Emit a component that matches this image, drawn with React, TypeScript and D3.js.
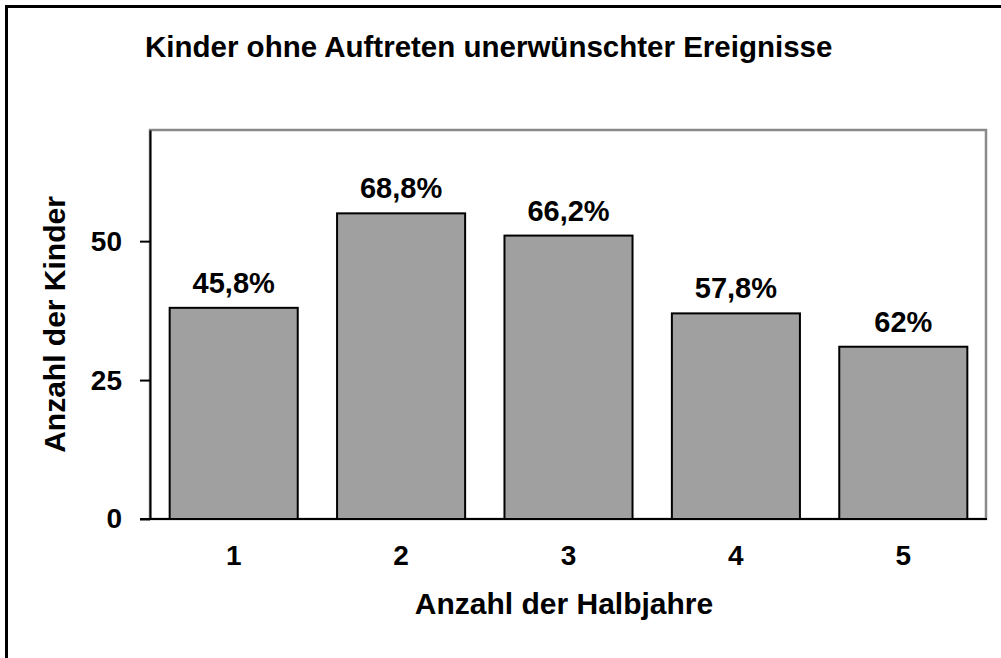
import * as d3 from "d3";
import React, { useEffect, useRef } from "react";

const categories = ["1", "2", "3", "4", "5"];
const counts = [38, 55, 51, 37, 31];
const percentLabels = ["45,8%", "68,8%", "66,2%", "57,8%", "62%"];
const yTicks = [0, 25, 50];

const W = 1001;
const H = 658;
const margin = { top: 130, right: 14, bottom: 139, left: 150 };
const font = "'Liberation Sans', Arial, sans-serif";

function BarChart() {
  const svgRef = useRef<SVGSVGElement>(null);

  useEffect(() => {
    const svg = d3.select(svgRef.current);
    svg.selectAll("*").remove();

    const x0 = margin.left;
    const x1 = W - margin.right;
    const y0 = H - margin.bottom;
    const y1 = margin.top;

    const xScale = d3
      .scaleBand()
      .domain(categories)
      .range([x0, x1])
      .paddingInner(0.235)
      .paddingOuter(0.1175);

    const yScale = d3.scaleLinear().domain([0, 70]).range([y0, y1]);

    // outer frame (only top and left visible)
    svg
      .append("path")
      .attr("d", `M6.5,${H} V6.5 H${W}`)
      .attr("fill", "none")
      .attr("stroke", "#000")
      .attr("stroke-width", 3);

    // plot area border
    svg
      .append("rect")
      .attr("x", x0)
      .attr("y", y1)
      .attr("width", x1 - x0 - 1)
      .attr("height", y0 - y1)
      .attr("fill", "#fff")
      .attr("stroke", "#8a8a8a")
      .attr("stroke-width", 2.5);

    // bars
    svg
      .selectAll(".bar")
      .data(counts)
      .join("rect")
      .attr("class", "bar")
      .attr("x", (d, i) => xScale(categories[i])!)
      .attr("y", (d) => yScale(d))
      .attr("width", xScale.bandwidth())
      .attr("height", (d) => yScale(0) - yScale(d))
      .attr("fill", "#a0a0a0")
      .attr("stroke", "#000")
      .attr("stroke-width", 2);

    // percentage labels
    svg
      .selectAll(".label")
      .data(counts)
      .join("text")
      .attr("class", "label")
      .attr("x", (d, i) => xScale(categories[i])! + xScale.bandwidth() / 2)
      .attr("y", (d) => yScale(d) - 15)
      .attr("text-anchor", "middle")
      .style("font-family", font)
      .style("font-weight", "bold")
      .style("font-size", "29px")
      .text((d, i) => percentLabels[i]);

    // y axis
    const yAxis = svg
      .append("g")
      .attr("transform", `translate(${x0},0)`)
      .call(
        d3.axisLeft(yScale).tickValues(yTicks).tickSize(10).tickSizeOuter(0).tickPadding(18)
      );
    yAxis.select(".domain").attr("stroke", "#000").attr("stroke-width", 2);
    yAxis.selectAll(".tick line").attr("stroke", "#000").attr("stroke-width", 2);
    yAxis
      .selectAll(".tick text")
      .style("font-family", font)
      .style("font-weight", "bold")
      .style("font-size", "28px")
      .attr("fill", "#000");

    // x axis
    const xAxis = svg
      .append("g")
      .attr("transform", `translate(0,${y0})`)
      .call(d3.axisBottom(xScale).tickSize(0).tickPadding(26));
    xAxis
      .select(".domain")
      .attr("d", `M${x0 - 10},0H${x1}`)
      .attr("stroke", "#000")
      .attr("stroke-width", 2);
    xAxis
      .selectAll(".tick text")
      .style("font-family", font)
      .style("font-weight", "bold")
      .style("font-size", "28px")
      .attr("fill", "#000");

    // titles
    svg
      .append("text")
      .attr("x", 145)
      .attr("y", 57)
      .style("font-family", font)
      .style("font-weight", "bold")
      .style("font-size", "29.5px")
      .text("Kinder ohne Auftreten unerwünschter Ereignisse");

    svg
      .append("text")
      .attr("x", 564)
      .attr("y", 614)
      .attr("text-anchor", "middle")
      .style("font-family", font)
      .style("font-weight", "bold")
      .style("font-size", "30px")
      .text("Anzahl der Halbjahre");

    svg
      .append("text")
      .attr("transform", `translate(65,${(y0 + y1) / 2}) rotate(-90)`)
      .attr("text-anchor", "middle")
      .style("font-family", font)
      .style("font-weight", "bold")
      .style("font-size", "30px")
      .text("Anzahl der Kinder");
  }, []);

  return (
    <svg
      ref={svgRef}
      width={W}
      height={H}
      style={{ position: "absolute", left: 0, top: 0, background: "#fff" }}
    />
  );
}

export default function App() {
  return <BarChart />;
}
